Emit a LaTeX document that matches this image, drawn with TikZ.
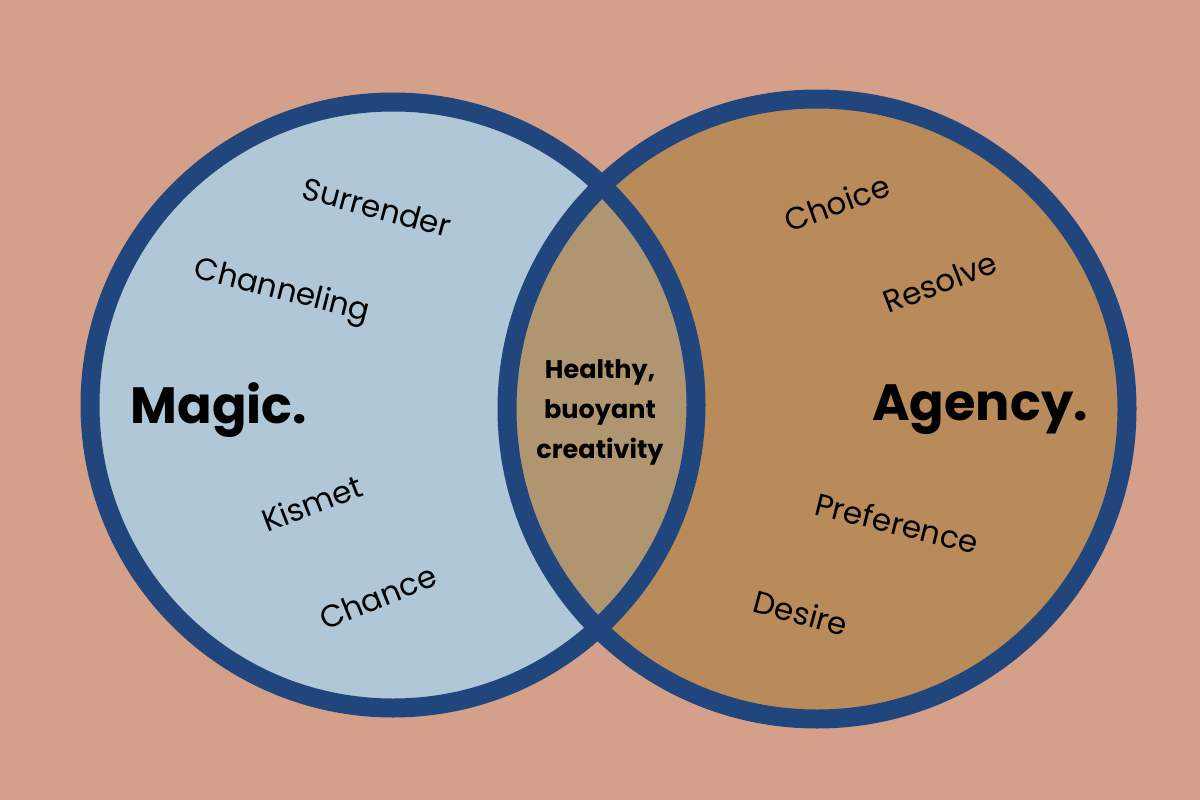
\documentclass[tikz,border=0pt]{standalone}
\usepackage{fontspec}
\setmainfont{Poppins}
\definecolor{bg}{HTML}{D4A08A}
\definecolor{lblue}{HTML}{AFC7D6}
\definecolor{tan}{HTML}{B98A5A}
\definecolor{lens}{HTML}{AF9670}
\definecolor{ring}{HTML}{21467E}
\begin{document}
\begin{tikzpicture}[x=1pt,y=-1pt,
  word/.style={font=\fontsize{31}{34}\selectfont, text=black, inner sep=0pt},
  title/.style={font=\fontsize{51}{56}\selectfont\bfseries, text=black, inner sep=0pt},
  mid/.style={font=\fontsize{25.5}{40}\selectfont\bfseries, text=black, align=center, inner sep=0pt}]
\fill[bg] (0,0) rectangle (1200,800);
\useasboundingbox (0,0) rectangle (1200,800);
\coordinate (cl) at (393,405);
\coordinate (cr) at (817,409);
\fill[lblue] (cl) circle (303);
\fill[tan] (cr) circle (310);
\begin{scope}
\clip (cl) circle (303);
\fill[lens] (cr) circle (310);
\end{scope}
\draw[ring, line width=19pt] (cl) circle (303);
\draw[ring, line width=19pt] (cr) circle (310);
\node[word, rotate=-15] (surrender) at (377,207) {Surrender};
\node[word, rotate=-14] (channeling) at (282,292) {Channeling};
\node[title] (magic) at (219,410) {Magic.};
\node[word, rotate=21] (kismet) at (312,503) {Kismet};
\node[word, rotate=22] (chance) at (378,597) {Chance};
\node[word, rotate=20] (choice) at (837,203) {Choice};
\node[word, rotate=21] (resolve) at (940,282) {Resolve};
\node[title] (agency) at (980,410) {Agency.};
\node[word, rotate=-14] (preference) at (897,523) {Preference};
\node[word, rotate=-15] (desire) at (801,613) {Desire};
\node[mid] (center) at (600,412) {Healthy,\\buoyant\\creativity};
\end{tikzpicture}
\end{document}
